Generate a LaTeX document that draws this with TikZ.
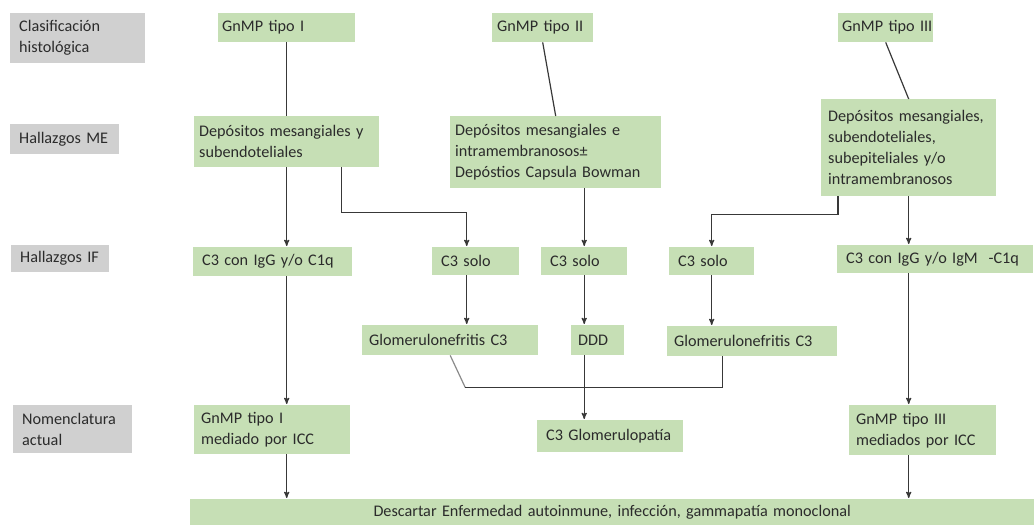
\documentclass[tikz,border=0pt]{standalone}
\usepackage{fontspec}
\setmainfont{Carlito}
\usepackage{tikz}
\usetikzlibrary{arrows}
\usetikzlibrary{positioning}
\definecolor{verdecaja}{HTML}{C6DFB5}
\definecolor{griscaja}{HTML}{D0D0D0}
\definecolor{textocaja}{HTML}{2B2B2B}
\definecolor{linea}{HTML}{383838}
\definecolor{lineaclara}{HTML}{8A8A8A}
\tikzset{
    texto/.style={font=\fontsize{16.2}{21}\selectfont, text=textocaja, align=left, anchor=north west, inner ysep=0pt},
    etapa/.style={texto, fill=griscaja, inner xsep=9pt},
    caja/.style={texto, fill=verdecaja, inner xsep=7pt},
    union/.style={draw=linea, line width=1.2pt},
    flecha/.style={union, ->, shorten >=1pt},
  }

\begin{document}
\begin{tikzpicture}[x=1pt,y=-1pt,>=stealth']
  \useasboundingbox (0,0) rectangle (1034,525);
  % columna de etapas
  \node[etapa, text width=117pt, minimum height=50pt] (clasif) at (10,13) {Clasificación\\histológica};
  \node[etapa, text width=91pt, minimum height=30pt] (hallME) at (10,124) {Hallazgos~ME};
  \node[etapa, text width=80pt, minimum height=27pt] (hallIF) at (11,245) {Hallazgos~IF};
  \node[etapa, text width=101pt, minimum height=48pt] (nomen) at (13,405) {Nomenclatura\\actual};

  \node[caja, inner xsep=4pt, text width=129pt, minimum height=29pt] (tipoI) at (218,13) {GnMP~tipo~I};
  \node[caja, inner xsep=5pt, text width=91pt, minimum height=29pt] (tipoII) at (492,13) {GnMP~tipo~II};
  \node[caja, inner xsep=4pt, text width=87pt, minimum height=29pt] (tipoIII) at (838,13) {GnMP~tipo~III};

  \node[caja, inner xsep=5pt, text width=175pt, minimum height=51pt] (depI) at (194,116) {Depósitos~mesangiales~y\\subendoteliales};
  \node[caja, inner xsep=5pt, text width=201pt, minimum height=72pt] (depII) at (450,116) {Depósitos~mesangiales~e\\intramembranosos±\\Depóstios~Capsula~Bowman};
  \node[caja, text width=161pt, minimum height=97pt] (depIII) at (821,99) {Depósitos~mesangiales,\\subendoteliales,\\subepiteliales~y/o\\intramembranosos};

  \node[caja, inner xsep=9pt, text width=141pt, minimum height=29pt] (ifI) at (193,247) {C3~con~IgG~y/o~C1q};
  \node[caja, inner xsep=9pt, text width=69pt, minimum height=28pt] (soloA) at (432,247) {C3~solo};
  \node[caja, inner xsep=9pt, text width=68pt, minimum height=28pt] (soloB) at (541,247) {C3~solo};
  \node[caja, inner xsep=9pt, text width=67pt, minimum height=28pt] (soloC) at (669,247) {C3~solo};
  \node[caja, inner xsep=9pt, text width=178pt, minimum height=28pt] (ifIII) at (837,245) {C3~con~IgG~y/o~IgM~~-C1q};

  \node[caja, text width=162pt, minimum height=30pt] (gnA) at (362,325) {Glomerulonefritis~C3};
  \node[caja, text width=39pt, minimum height=30pt] (ddd) at (571,325) {DDD};
  \node[caja, text width=156pt, minimum height=30pt] (gnB) at (667,326) {Glomerulonefritis~C3};

  \node[caja, text width=142pt, minimum height=49pt] (nomI) at (194,405) {GnMP~tipo~I\\mediado~por~ICC};
  \node[caja, inner xsep=9pt, text width=128pt, minimum height=32pt] (c3g) at (537,420) {C3~Glomerulopatía};
  \node[caja, text width=133pt, minimum height=50pt] (nomIII) at (849,405) {GnMP~tipo~III\\mediados~por~ICC};

  \node[caja, text width=830pt, minimum height=26pt, align=center] (descartar) at (190,499) {Descartar Enfermedad autoinmune, infección, gammapatía monoclonal};

  \draw[union] (tipoI.south) -- (depI.north);
  \draw[union] (tipoII.south) -- (depII.north);
  \draw[union] (tipoIII.south) -- (depIII.north);

  \draw[flecha] (depI.south) -- (depI.south |- ifI.north);
  \draw[flecha] ([xshift=-38pt]depI.south east) -- ++(0,45) -| ([xshift=-9pt]soloA.north);
  \draw[flecha] (depII.south -| soloB.north) -- (soloB.north);
  \draw[flecha] ([xshift=17pt]depIII.south west) -- ++(0,18) -| (soloC.north);
  \draw[flecha] (depIII.south) -- (depIII.south |- ifIII.north);

  \draw[flecha] ([xshift=-9pt]soloA.south) -- ([xshift=-9pt]soloA.south |- gnA.north);
  \draw[flecha] (soloB.south) -- (soloB.south |- ddd.north);
  \draw[flecha] (soloC.south) -- (soloC.south |- gnB.north);

  \draw[flecha] (depI.south |- ifI.south) -- (depI.south |- nomI.north);
  \draw[flecha] (depIII.south |- ifIII.south) -- (depIII.south |- nomIII.north);

  % union de las dos glomerulonefritis C3
  \path (gnA.south) ++(15,32) coordinate (codo);
  \draw[union, draw=lineaclara] (gnA.south) -- (codo);
  \draw[union] (codo) -| ([xshift=-30pt]gnB.south);
  \draw[flecha] (soloB.south |- ddd.south) -- (soloB.south |- c3g.north);

  \draw[flecha] (depI.south |- nomI.south) -- (depI.south |- descartar.north);
  \draw[flecha] (depIII.south |- nomIII.south) -- (depIII.south |- descartar.north);
\end{tikzpicture}
\end{document}
